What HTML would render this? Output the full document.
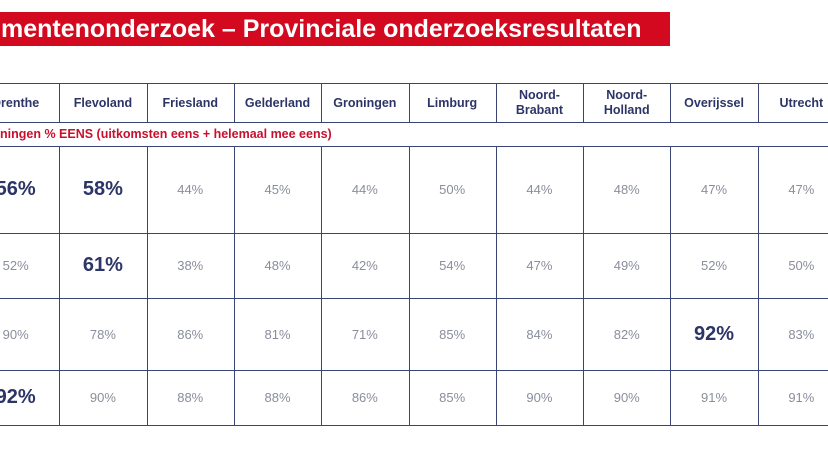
<!DOCTYPE html>
<html><head><meta charset="utf-8">
<style>
html,body{margin:0;padding:0;background:#fff;}
#root{position:relative;width:828px;height:450px;overflow:hidden;font-family:"Liberation Sans",sans-serif;}
.title{position:absolute;left:0;top:12px;width:670px;height:34px;background:#d2091f;color:#fff;font-weight:bold;font-size:25px;line-height:34px;white-space:nowrap;overflow:hidden;padding-left:1px;box-sizing:border-box;}
.hl{position:absolute;background:#3a4473;height:1px;}
.vl{position:absolute;background:#3a4473;width:1px;}
.hdr{position:absolute;color:#2c3566;font-weight:bold;font-size:12.5px;text-align:center;line-height:15px;display:flex;align-items:center;justify-content:center;}
.sub{position:absolute;left:0;top:124px;color:#c8102e;font-weight:bold;font-size:12.5px;line-height:20px;white-space:nowrap;}
.cell{position:absolute;display:flex;align-items:center;justify-content:center;color:#8a8e9c;font-size:13px;}
.cell.big{color:#2c3566;font-weight:bold;font-size:20px;}
</style></head>
<body>
<div id="root">
  <div class="title">mentenonderzoek – Provinciale onderzoeksresultaten</div>
  <div class="sub">ningen % EENS (uitkomsten eens + helemaal mee eens)</div>
</div>
<script>
const provinces=["Drenthe","Flevoland","Friesland","Gelderland","Groningen","Limburg","Noord-<br>Brabant","Noord-<br>Holland","Overijssel","Utrecht"];
const row1=[56,58,44,45,44,50,44,48,47,47];
const row2=[52,61,38,48,42,54,47,49,52,50];
const row3=[90,78,86,81,71,85,84,82,92,83];
const row4=[92,90,88,88,86,85,90,90,91,91];
const bold1=[0,1];
const bold2=[1];
const bold3=[8];
const bold4=[0];
const rows=[row1,row2,row3,row4];
const bolds=[bold1,bold2,bold3,bold4];
const root=document.getElementById('root');
const x0=-28,cw=87.3;
const rowTops=[146,233,298,370],rowBots=[233,298,370,425];
function mk(cls,st){const d=document.createElement('div');d.className=cls;Object.assign(d.style,st);root.appendChild(d);return d;}
[83,122,146,233,298,370,425].forEach((y)=>{
 const l=mk('hl',{left:'0px',top:y+'px',width:'828px'});
 
 
});
for(let c=1;c<provinces.length;c++){
 const x=Math.round(x0+c*cw);
 const a=mk('vl',{left:x+'px',top:'83px',height:'39px'});
 
 
 const b=mk('vl',{left:x+'px',top:'146px',height:'279px'});
 
 
}
provinces.forEach((p,c)=>{
 const h=mk('hdr',{left:(x0+c*cw)+'px',top:'84px',width:cw+'px',height:'38px'});
 h.innerHTML=p;
 
 
});
rows.forEach((r,ri)=>{
 r.forEach((v,c)=>{
  const big=bolds[ri].includes(c);
  const d=mk('cell'+(big?' big':''),{left:(x0+c*cw)+'px',top:rowTops[ri]+'px',width:cw+'px',height:(rowBots[ri]-rowTops[ri])+'px'});
  d.textContent=v+'%';
  
  
 });
});
</script>
</body></html>
